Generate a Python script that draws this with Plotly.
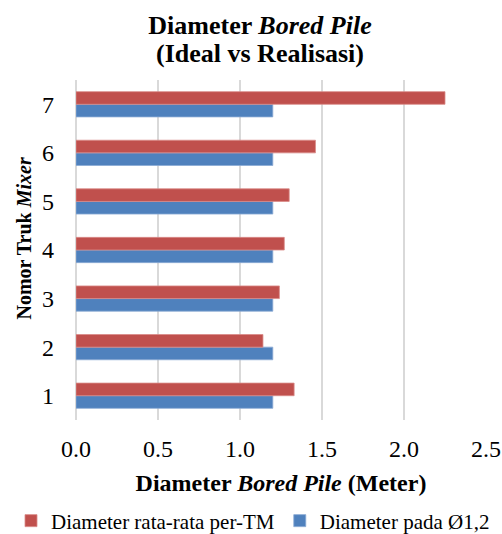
import plotly.graph_objects as go

trucks = [1, 2, 3, 4, 5, 6, 7]
rata_rata = [1.33, 1.14, 1.24, 1.27, 1.30, 1.46, 2.25]
ideal = [1.2, 1.2, 1.2, 1.2, 1.2, 1.2, 1.2]
x_ticks = [0.0, 0.5, 1.0, 1.5, 2.0, 2.5]

FONT = "Liberation Serif"
RED = "#C0504D"
BLUE = "#4F81BD"

L, R, T, B = 76, 16, 80, 114
W, H = 502, 534
PW, PH = W - L - R, H - T - B


def px_x(x):
    return (x - L) / PW


def px_y(y):
    return (H - B - y) / PH


fig = go.Figure()
fig.add_trace(go.Bar(
    y=trucks, x=ideal, orientation="h", name="Diameter pada Ø1,2",
    marker=dict(color=BLUE, line=dict(color="#8aaad4", width=0.8)),
    legendrank=2,
))
fig.add_trace(go.Bar(
    y=trucks, x=rata_rata, orientation="h", name="Diameter rata-rata per-TM",
    marker=dict(color=RED, line=dict(color="#d98a88", width=0.8)),
    legendrank=1,
))

fig.update_layout(
    width=W, height=H,
    margin=dict(l=L, r=R, t=T, b=B, autoexpand=False),
    paper_bgcolor="white", plot_bgcolor="white",
    font=dict(family=FONT, color="black", size=24),
    barmode="group", bargap=0.48, bargroupgap=0,
    title=dict(
        text="<b>Diameter <i>Bored Pile</i></b>",
        font=dict(family=FONT, size=26, color="black"),
        x=260 / W, xref="container", xanchor="center",
        y=1 - 25 / H, yref="container", yanchor="middle",
    ),
    xaxis=dict(
        range=[0, 2.5], tickvals=x_ticks, tickformat=".1f",
        showgrid=True, gridcolor="#d9d9d9", gridwidth=1.5,
        zeroline=True, zerolinecolor="#d9d9d9", zerolinewidth=1.5,
        showline=False, ticks="", ticklabelstandoff=12,
        tickfont=dict(size=24), automargin=False,
        title=dict(text="<b>Diameter <i>Bored Pile</i> (Meter)</b>",
                   font=dict(size=24), standoff=13),
    ),
    yaxis=dict(
        range=[0.5, 7.5], tickvals=trucks, showgrid=False, zeroline=False,
        showline=False, ticks="", ticklabelstandoff=21,
        tickfont=dict(size=24), automargin=False,
    ),
    legend=dict(
        orientation="h",
        x=px_x(11), xanchor="left",
        y=px_y(521), yanchor="middle",
        font=dict(size=21), itemwidth=30, tracegroupgap=0,
    ),
    annotations=[
        dict(
            text="<b>(Ideal vs Realisasi)</b>",
            xref="paper", yref="paper", x=px_x(260), y=px_y(53),
            xanchor="center", yanchor="middle", showarrow=False,
            font=dict(family=FONT, size=26, color="black"),
        ),
        dict(
            text="<b>Nomor Truk <i>Mixer</i></b>", textangle=-90,
            xref="paper", yref="paper", x=px_x(23), y=px_y(238.5),
            xanchor="center", yanchor="middle", showarrow=False,
            font=dict(family=FONT, size=20, color="black"),
        ),
    ],
)

fig.write_html("out.html", config={"displayModeBar": False},
               post_script="document.body.style.margin='0';")
